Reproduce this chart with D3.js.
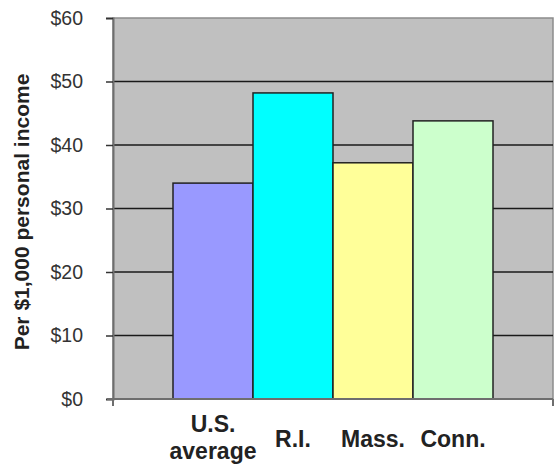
<!DOCTYPE html>
<html lang="en">
<head>
<meta charset="UTF-8">
<script src="https://d3js.org/d3.v7.min.js"></script>
<style>
  body { margin: 0; background: #fff; }
  text { font-family: 'Liberation Sans', Arial, sans-serif; }
</style>
</head>
<body>
<div id="chart"></div>
<script>

var categories = ["U.S. average", "R.I.", "Mass.", "Conn."];
var labelLines = [["U.S.", "average"], ["R.I."], ["Mass."], ["Conn."]];
var values = [34.0, 48.2, 37.2, 43.8];
var colors = ["#9999ff", "#00ffff", "#ffff99", "#ccffcc"];
var yTicks = [0, 10, 20, 30, 40, 50, 60];

var svg = d3.select("#chart")
.append("svg")
.attr("width", 556)
.attr("height", 466);

var plotLeft = 113, plotRight = 553, plotTop = 18, plotBottom = 399;

var x_scale = d3.scaleBand()
.domain(categories)
.range([plotLeft, plotRight])
.paddingInner(0)
.paddingOuter(0.75);

var y_scale = d3.scaleLinear()
.domain([0, 60])
.range([plotBottom, plotTop]);

// plot area
svg.append("rect")
.attr("x", plotLeft)
.attr("y", plotTop)
.attr("width", plotRight - plotLeft)
.attr("height", plotBottom - plotTop)
.attr("fill", "#c0c0c0")
.attr("stroke", "#8c8c8c")
.attr("stroke-width", 1.5);

// gridlines
svg.append("g")
.selectAll("line")
.data(yTicks.filter(function (d) { return d > 0 && d < 60; }))
.enter()
.append("line")
.attr("x1", plotLeft)
.attr("x2", plotRight)
.attr("y1", function (d) { return y_scale(d); })
.attr("y2", function (d) { return y_scale(d); })
.attr("stroke", "#1a1a1a")
.attr("stroke-width", 1.5);

// bars
svg.append("g")
.selectAll("rect")
.data(values)
.enter()
.append("rect")
.attr("x", function (d, i) { return x_scale(categories[i]); })
.attr("y", function (d) { return y_scale(d); })
.attr("width", x_scale.bandwidth())
.attr("height", function (d) { return plotBottom - y_scale(d); })
.attr("fill", function (d, i) { return colors[i]; })
.attr("stroke", "#222")
.attr("stroke-width", 1.5);

// y axis
var y_axis = d3.axisLeft(y_scale)
.tickValues(yTicks)
.tickSize(7)
.tickFormat(function (d) { return "$" + d; });

var yg = svg.append("g")
.attr("transform", "translate(" + plotLeft + ",0)")
.call(y_axis);
yg.select(".domain").attr("stroke", "#6e6e6e").attr("stroke-width", 2);
yg.selectAll(".tick line").attr("stroke", "#333").attr("stroke-width", 1.5);
yg.selectAll(".tick text")
.attr("x", -30)
.style("font-size", "19.5px")
.style("font-family", "'Liberation Sans', Arial, sans-serif")
.attr("fill", "#333");

// x axis line with end ticks
var xg = svg.append("g");
xg.append("line")
.attr("x1", plotLeft - 6).attr("x2", plotRight)
.attr("y1", plotBottom).attr("y2", plotBottom)
.attr("stroke", "#6e6e6e").attr("stroke-width", 2);
xg.selectAll("line.end")
.data([plotLeft, plotRight])
.enter()
.append("line")
.attr("class", "end")
.attr("x1", function (d) { return d; })
.attr("x2", function (d) { return d; })
.attr("y1", plotBottom)
.attr("y2", plotBottom + 7)
.attr("stroke", "#6e6e6e")
.attr("stroke-width", 2);

// category labels
var lab = svg.append("g")
.selectAll("text")
.data(categories)
.enter()
.append("text")
.attr("text-anchor", "middle")
.attr("x", function (d) { return x_scale(d) + x_scale.bandwidth() / 2; })
.attr("y", function (d, i) { return labelLines[i].length > 1 ? 432 : 447; })
.style("font-size", "23px")
.style("font-weight", "bold")
.attr("fill", "#222");

lab.each(function (d, i) {
  var t = d3.select(this);
  labelLines[i].forEach(function (line, j) {
    t.append("tspan")
    .attr("x", x_scale(d) + x_scale.bandwidth() / 2)
    .attr("dy", j === 0 ? 0 : 27)
    .text(line);
  });
});

// y title
svg.append("text")
.attr("transform", "translate(29," + 212 + ") rotate(-90)")
.attr("text-anchor", "middle")
.style("font-size", "21px")
.style("font-weight", "bold")
.attr("fill", "#222")
.text("Per $1,000 personal income");

</script>
</body>
</html>
